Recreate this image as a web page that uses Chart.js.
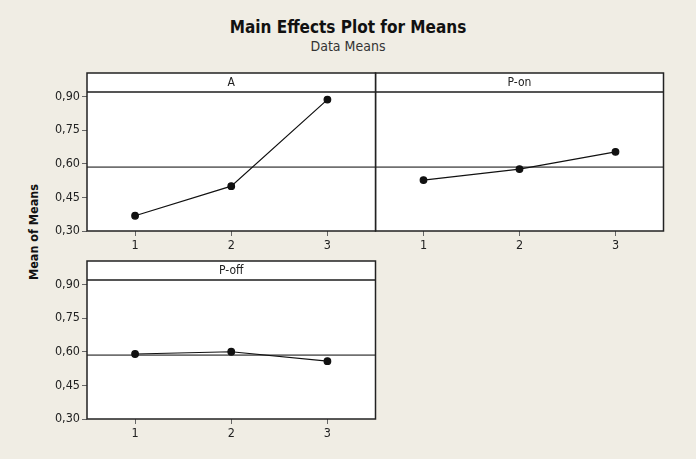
<!DOCTYPE html>
<html lang="en">
<head>
  <meta charset="UTF-8">
  <title>Main Effects Plot for Means</title>
  <script src="https://cdn.jsdelivr.net/npm/chart.js"></script>
  <style>
    body { margin: 0; background: #f0ede4; font-family: "DejaVu Sans Condensed", "DejaVu Sans", sans-serif; }
    #wrap { position: relative; width: 696px; height: 459px; overflow: hidden; }
    canvas { position: absolute; }
    .title { position: absolute; left: 0; width: 696px; text-align: center; color: #111; line-height: 1; }
    #t1 { top: 19px; font-size: 17px; font-weight: bold; }
    #t2 { top: 39px; font-size: 14px; color: #333; }
    #ylab { position: absolute; left: 33px; top: 232px; transform: translate(-50%, -50%) rotate(-90deg);
            font-size: 12.5px; font-weight: bold; white-space: nowrap; color: #111; }
  </style>
</head>
<body>
<div id="wrap">
  <div class="title" id="t1">Main Effects Plot for Means</div>
  <div class="title" id="t2">Data Means</div>
  <div id="ylab">Mean of Means</div>
  <canvas id="cOn" width="297" height="200" style="left:371px;top:60px"></canvas>
  <canvas id="cA" width="380" height="200" style="left:0;top:60px"></canvas>
  <canvas id="cOff" width="380" height="200" style="left:0;top:248px"></canvas>
</div>
<script>
  const levels = [1, 2, 3];
  const meansA = [0.368, 0.500, 0.886];
  const meansPon = [0.527, 0.576, 0.653];
  const meansPoff = [0.590, 0.600, 0.558];
  const grandMean = 0.585;
  const yTicks = [0.30, 0.45, 0.60, 0.75, 0.90];

  const FONT = '"DejaVu Sans Condensed", "DejaVu Sans", sans-serif';

  // header strip + frame around each panel
  const panelFrame = {
    id: 'panelFrame',
    beforeDraw(chart) {
      const a = chart.chartArea, c = chart.ctx;
      c.save();
      c.fillStyle = '#fff';
      c.fillRect(a.left, a.top - 19, a.right - a.left, a.bottom - a.top + 19);
      c.restore();
    },
    afterDraw(chart) {
      const a = chart.chartArea, c = chart.ctx;
      c.save();
      c.strokeStyle = '#555';
      c.lineWidth = 2;
      c.beginPath();
      c.moveTo(a.left, a.top); c.lineTo(a.right, a.top);
      c.stroke();
      c.strokeStyle = '#222';
      c.lineWidth = 1.5;
      c.strokeRect(a.left, a.top - 19, a.right - a.left, a.bottom - a.top + 19);
      c.fillStyle = '#222';
      c.font = '12px ' + FONT;
      c.textAlign = 'center';
      c.textBaseline = 'middle';
      c.fillText(chart.options.plugins.panelFrame.label, (a.left + a.right) / 2, a.top - 9);
      c.restore();
    }
  };

  function makePanel(id, label, means, showY) {
    return new Chart(document.getElementById(id), {
      type: 'line',
      data: {
        datasets: [{
          data: levels.map((x, i) => ({ x: x, y: means[i] })),
          borderColor: '#111',
          backgroundColor: '#111',
          borderWidth: 1.2,
          pointRadius: 3.3,
          pointHoverRadius: 3.3
        }, {
          data: [{ x: 0.5, y: grandMean }, { x: 3.5, y: grandMean }],
          borderColor: '#707070',
          borderWidth: 1.6,
          pointRadius: 0
        }]
      },
      options: {
        responsive: false,
        animation: false,
        events: [],
        layout: { padding: { left: 0, right: 2, top: 32, bottom: 0 } },
        plugins: {
          legend: { display: false },
          tooltip: { enabled: false },
          panelFrame: { label: label }
        },
        scales: {
          x: {
            type: 'linear',
            min: 0.5, max: 3.5,
            afterBuildTicks: s => { s.ticks = levels.map(v => ({ value: v })); },
            afterFit: s => { s.height = 29; },
            grid: { drawOnChartArea: false, tickLength: 5, color: '#666' },
            border: { display: false },
            ticks: { color: '#222', font: { family: FONT, size: 12.5 }, padding: 2 }
          },
          y: {
            display: showY,
            min: 0.30, max: 0.92,
            afterBuildTicks: s => { s.ticks = yTicks.map(v => ({ value: v })); },
            afterFit: s => { s.width = showY ? 87 : 0; },
            grid: { drawOnChartArea: false, tickLength: 5, color: '#666' },
            border: { display: false },
            ticks: {
              color: '#222', font: { family: FONT, size: 12.5 }, padding: 2,
              callback: v => v.toFixed(2).replace('.', ',')
            }
          }
        }
      },
      plugins: [panelFrame]
    });
  }

  makePanel('cOn', 'P-on', meansPon, false);
  makePanel('cA', 'A', meansA, true);
  makePanel('cOff', 'P-off', meansPoff, true);
</script>
</body>
</html>
